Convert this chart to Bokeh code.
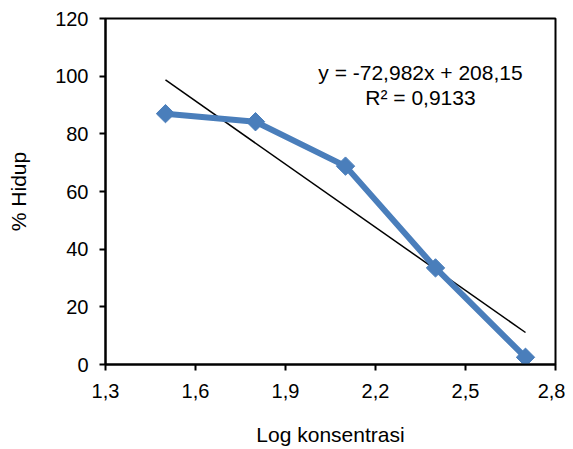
import numpy as np
from bokeh.plotting import figure
from bokeh.models import Label, CustomJSTickFormatter, FixedTicker, Range1d
from bokeh.embed import file_html
from bokeh.resources import INLINE

# Data
log_konsentrasi = [1.5, 1.8, 2.1, 2.4, 2.7]
persen_hidup = [87.0, 84.2, 68.8, 33.5, 2.5]
slope = -72.982
intercept = 208.15
x_ticks = [1.3, 1.6, 1.9, 2.2, 2.5, 2.8]
y_ticks = [0, 20, 40, 60, 80, 100, 120]
eq_line1 = "y = -72,982x + 208,15"
eq_line2 = "R² = 0,9133"

FONT = "Liberation Sans"
BLUE = "#4A7EBB"

p = figure(width=565, height=441, output_backend="svg", toolbar_location=None,
           x_range=Range1d(1.3, 2.8), y_range=Range1d(0, 120),
           min_border_left=105, min_border_right=10, min_border_top=18,
           min_border_bottom=77)
p.frame_width = 450
p.frame_height = 346

p.xgrid.visible = False
p.ygrid.visible = False
p.outline_line_color = "black"
p.outline_line_width = 2
p.background_fill_color = "white"
p.border_fill_color = "white"

# trendline
tx = np.array([log_konsentrasi[0], log_konsentrasi[-1]])
ty = slope * tx + intercept
p.line(tx, ty, line_color="black", line_width=1.5)

# series
p.line(log_konsentrasi, persen_hidup, line_color=BLUE, line_width=6)
p.scatter(log_konsentrasi, persen_hidup, marker="square", size=13, angle=np.pi / 4,
          fill_color=BLUE, line_color=BLUE)

for ax in (p.xaxis[0], p.yaxis[0]):
    ax.axis_line_color = "black"
    ax.axis_line_width = 2
    ax.major_tick_line_color = "black"
    ax.major_tick_line_width = 2
    ax.major_tick_in = 0
    ax.major_tick_out = 6
    ax.minor_tick_line_color = None
    ax.major_label_text_font = FONT
    ax.major_label_text_font_size = "20px"
    ax.major_label_text_color = "black"
    ax.axis_label_text_font = FONT
    ax.axis_label_text_font_size = "21px"
    ax.axis_label_text_font_style = "normal"
    ax.axis_label_text_color = "black"

p.xaxis.ticker = FixedTicker(ticks=x_ticks)
p.yaxis.ticker = FixedTicker(ticks=y_ticks)
p.xaxis.formatter = CustomJSTickFormatter(code="return tick.toFixed(1).replace('.', ',');")
p.xaxis.axis_label = "Log konsentrasi"
p.yaxis.axis_label = "% Hidup"
p.xaxis.major_label_standoff = 13
p.yaxis.major_label_standoff = 11
p.xaxis.axis_label_standoff = 22
p.yaxis.axis_label_standoff = 22

p.add_layout(Label(x=2.35, y=101.3, text=eq_line1, text_align="center",
                   text_baseline="middle", text_font=FONT, text_font_size="21px",
                   text_color="black"))
p.add_layout(Label(x=2.35, y=92.6, text=eq_line2, text_align="center",
                   text_baseline="middle", text_font=FONT, text_font_size="21px",
                   text_color="black"))

open("out.html", "w").write(file_html(p, INLINE))
